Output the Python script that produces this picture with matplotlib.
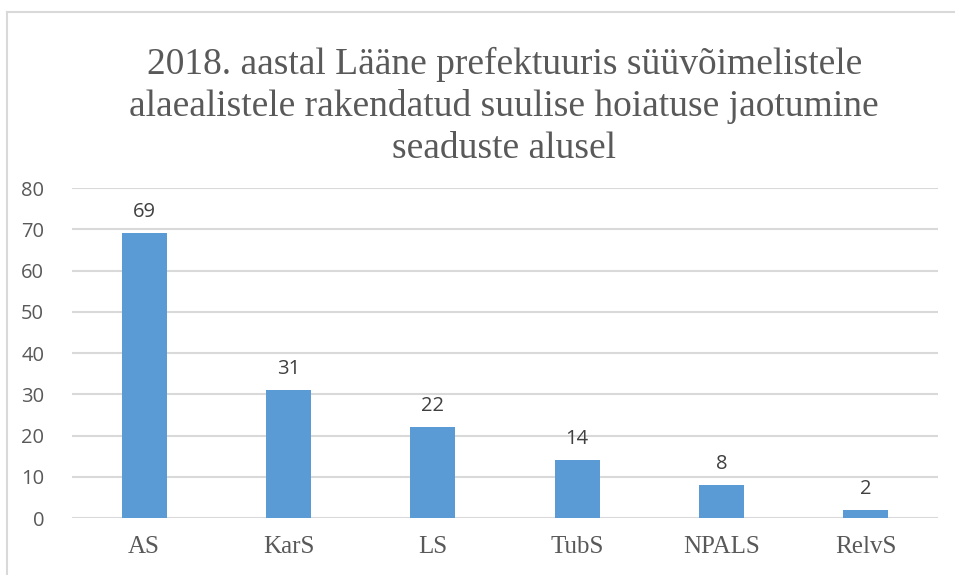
import matplotlib.pyplot as plt
from matplotlib.lines import Line2D

categories = ['AS', 'KarS', 'LS', 'TubS', 'NPALS', 'RelvS']
values = [69, 31, 22, 14, 8, 2]
yticks = [0, 10, 20, 30, 40, 50, 60, 70, 80]
title = ('2018. aastal Lääne prefektuuris süüvõimelistele\n'
         'alaealistele rakendatud suulise hoiatuse jaotumine\n'
         'seaduste alusel')

fig = plt.figure(figsize=(9.55, 5.75), dpi=100)
ax = fig.add_axes([0.0754, 0.0991, 0.9068, 0.5739])

x = range(len(categories))
bars = ax.bar(x, values, width=0.31, color='#5b9bd5', zorder=3)
ax.set_xlim(-0.5, len(categories) - 0.5)
ax.set_ylim(0, 80)
ax.set_yticks(yticks)
ax.set_xticks(list(x))
ax.set_xticklabels(categories, fontfamily='Liberation Serif', fontsize=18, color='#595959')
ax.tick_params(axis='x', length=0, pad=13)
ax.tick_params(axis='y', length=0, pad=20, labelsize=14.5, labelcolor='#595959')
for lab in ax.get_yticklabels():
    lab.set_fontfamily('Open Sans')

ax.grid(axis='y', color='#d9d9d9', linewidth=1.5, zorder=0)
for s in ax.spines.values():
    s.set_visible(False)

for b, v in zip(bars, values):
    ax.annotate(str(v), (b.get_x() + b.get_width() / 2, v), xytext=(0, 8),
                textcoords='offset points', ha='center', va='bottom',
                fontsize=14.5, color='#404040', fontfamily='Open Sans')

fig.text(0.528, 0.815, title, ha='center', va='center', fontsize=27,
         fontfamily='Liberation Serif', color='#595959', linespacing=1.26)

# chart frame (top and left visible)
fig.add_artist(Line2D([7 / 955, 1], [1 - 12 / 575, 1 - 12 / 575], color='#d9d9d9', lw=1.5))
fig.add_artist(Line2D([7 / 955, 7 / 955], [0, 1 - 12 / 575], color='#d9d9d9', lw=1.5))

fig.savefig('out.png', dpi=100)
